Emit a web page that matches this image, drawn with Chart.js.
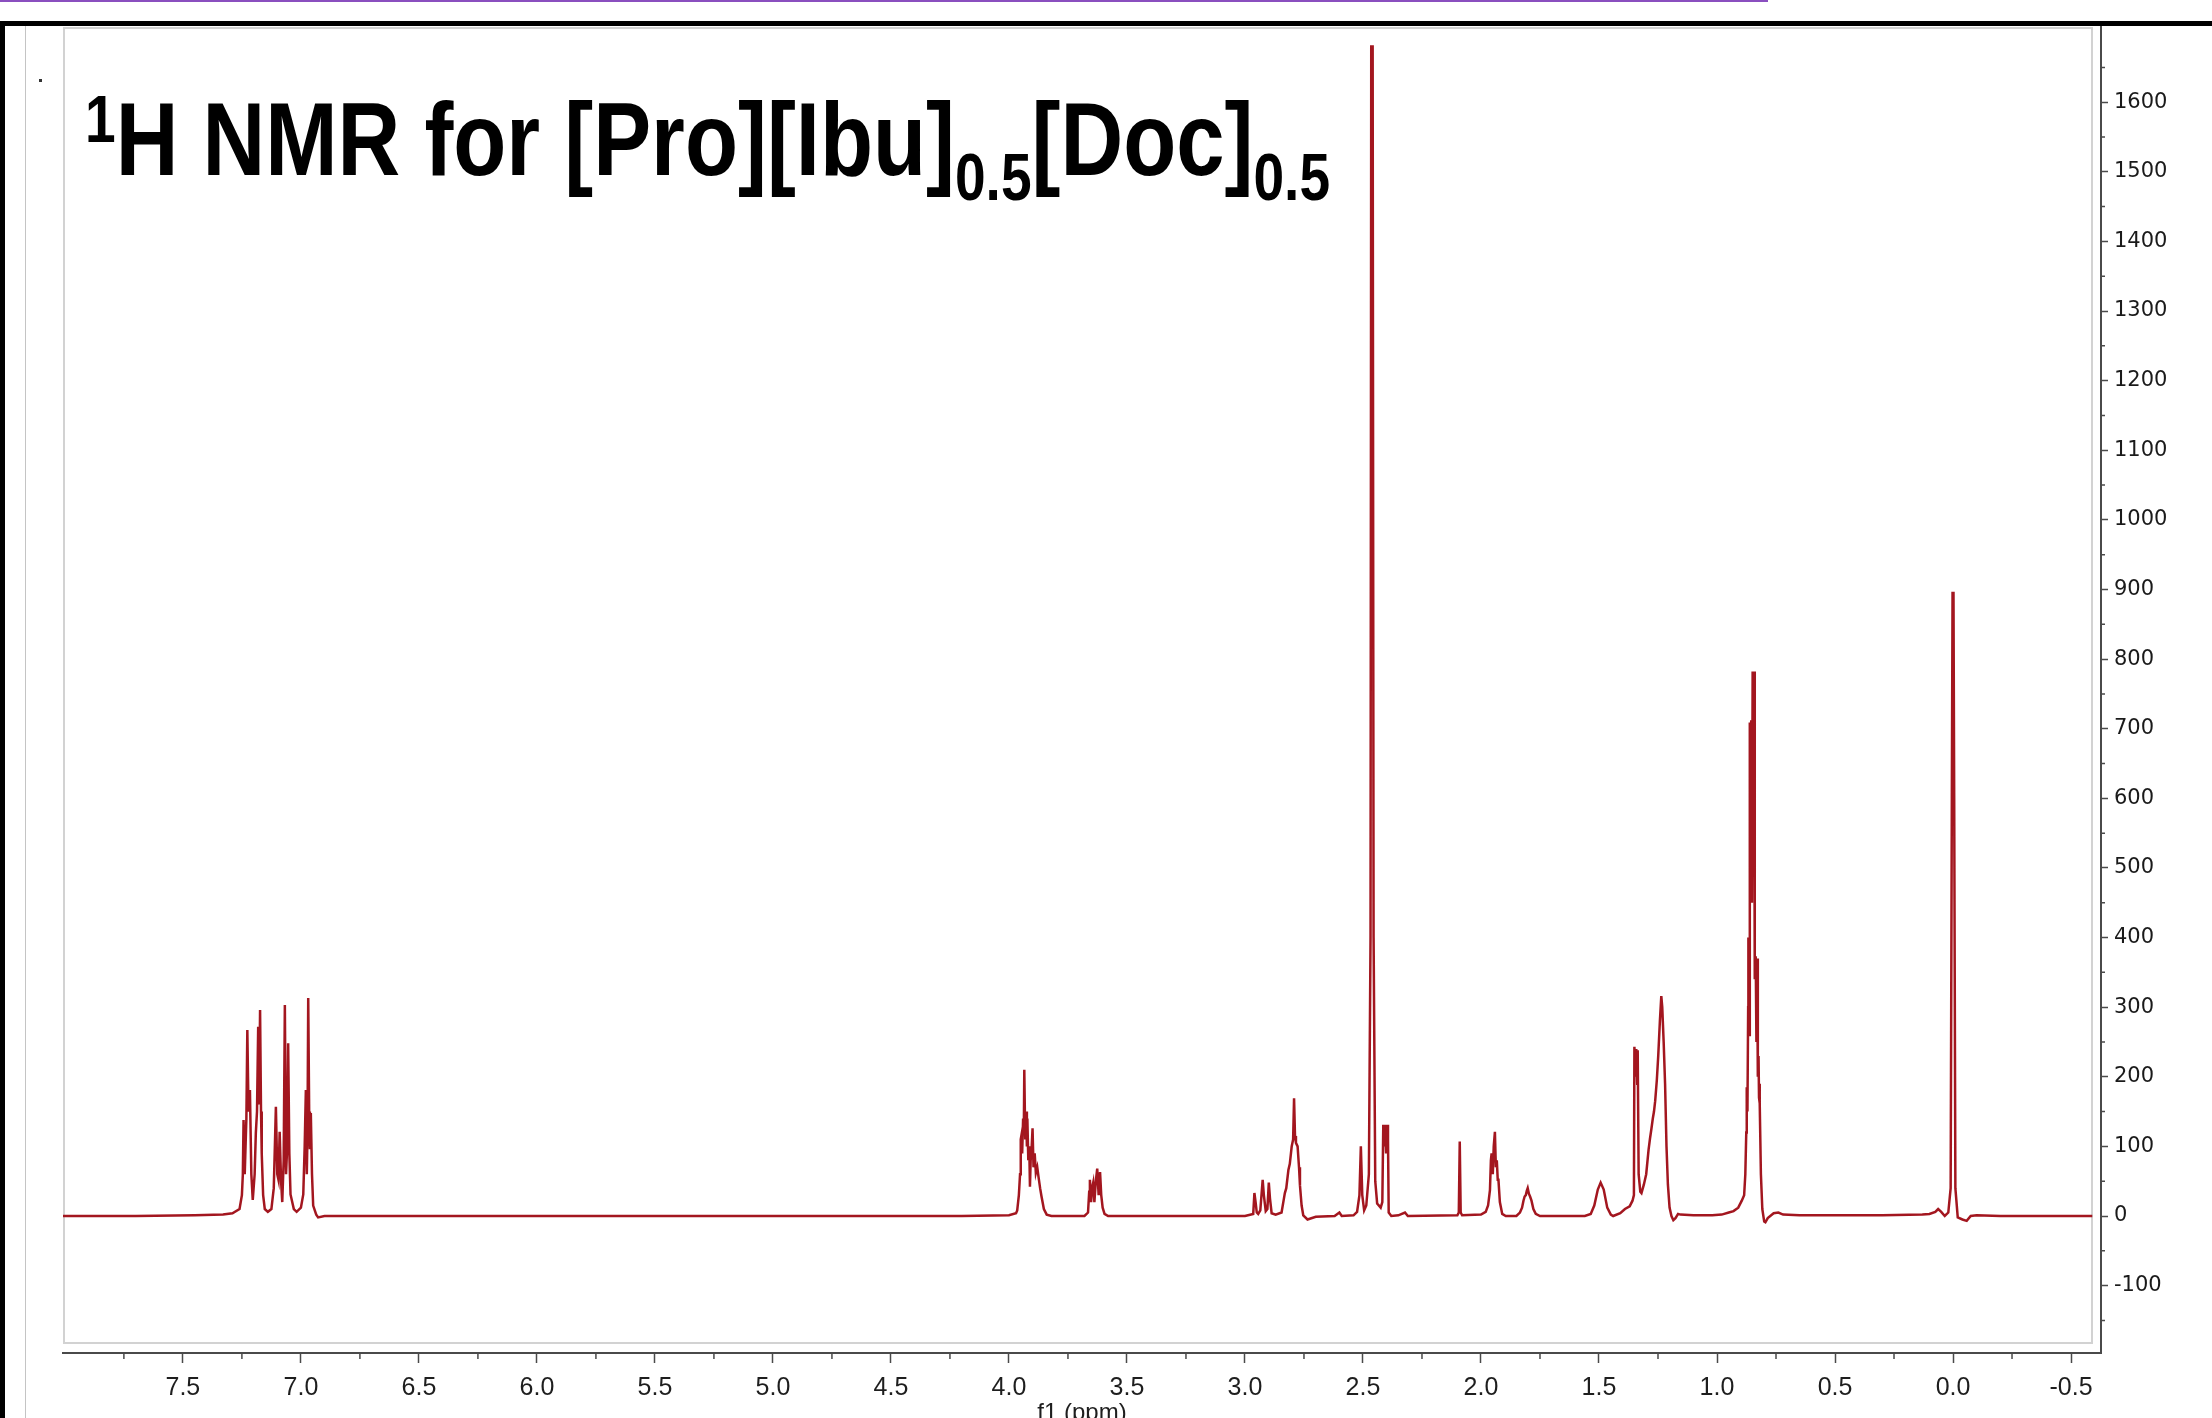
<html>
<head>
<title>1H NMR for [Pro][Ibu]0.5[Doc]0.5</title>
<script src="https://cdn.jsdelivr.net/npm/chart.js"></script>
<style>
    body { margin: 0; background: #fff; overflow: hidden; width: 2212px; height: 1418px; position: relative; }
    #chart { position: absolute; left: 0; top: 0; }
    .deco { position: absolute; z-index: 4; }
    #title {
        position: absolute; left: 85px; top: 87px; z-index: 5;
        font-family: 'Liberation Sans', Arial, sans-serif; font-weight: bold;
        font-size: 104px; line-height: 104px; color: #000; white-space: nowrap;
        transform: scaleX(0.835); transform-origin: 0 0;
    }
    #title .sub { font-size: 66px; position: relative; top: 25px; }
    #title .sup { font-size: 66px; position: relative; top: -33px; }
</style>
</head>
<body>
<!-- page frame bits around the plot -->
<div class="deco" style="left:0;top:0;width:1768px;height:2px;background:#8a4fbf"></div>
<div class="deco" style="left:0;top:21px;width:2212px;height:5px;background:#000"></div>
<div class="deco" style="left:0;top:21px;width:5px;height:1400px;background:#000"></div>
<div class="deco" style="left:25px;top:26px;width:1px;height:1400px;background:#c4c4c4"></div>
<div class="deco" style="left:39px;top:79px;width:3px;height:3px;background:#333"></div>

<div id="title"><span class="sup">1</span>H NMR for [Pro][Ibu]<span class="sub">0.5</span>[Doc]<span class="sub">0.5</span></div>

<canvas id="chart" width="2212" height="1432"></canvas>

<script>
    // chemical shift (ppm), intensity
    const baseLeft = [[8.01, 0], [7.70, 0], [7.45, 1], [7.33, 2], [7.29, 4], [7.26, 10]];
    const aromatic = [
        [7.250, 30], [7.246, 60], [7.243, 138], [7.238, 60], [7.231, 140], [7.227, 267], [7.222, 150],
        [7.216, 181], [7.210, 60], [7.204, 23], [7.196, 60], [7.191, 119], [7.186, 150], [7.181, 272],
        [7.177, 160], [7.173, 296], [7.169, 150], [7.166, 90], [7.160, 30], [7.153, 10], [7.140, 6],
        [7.125, 10], [7.115, 40], [7.106, 157], [7.100, 60], [7.095, 52], [7.090, 121], [7.084, 50],
        [7.079, 20], [7.073, 80], [7.068, 303], [7.063, 60], [7.058, 100], [7.054, 248], [7.049, 90],
        [7.044, 31], [7.030, 10], [7.018, 6], [7.000, 12], [6.990, 31], [6.984, 100], [6.979, 181],
        [6.975, 60], [6.972, 120], [6.969, 313], [6.965, 150], [6.962, 96], [6.958, 148], [6.953, 60],
        [6.948, 15], [6.935, 2], [6.927, -2], [6.900, 0]
    ];
    const proline = [
        [4.20, 0], [4.00, 1], [3.970, 4], [3.965, 8], [3.958, 30], [3.953, 60], [3.950, 110], [3.948, 114],
        [3.944, 90], [3.940, 140], [3.937, 120], [3.935, 210], [3.931, 110], [3.927, 150], [3.924, 100],
        [3.922, 140], [3.918, 80], [3.914, 100], [3.911, 42], [3.908, 80], [3.905, 90], [3.900, 126],
        [3.896, 70], [3.891, 90], [3.886, 62], [3.880, 70], [3.875, 57], [3.868, 40], [3.862, 28],
        [3.852, 10], [3.840, 2], [3.820, 0],
        [3.680, 0], [3.665, 5], [3.660, 35], [3.657, 52], [3.652, 20], [3.648, 40], [3.643, 48],
        [3.638, 20], [3.632, 50], [3.626, 68], [3.620, 30], [3.614, 63], [3.609, 30], [3.603, 12],
        [3.595, 3], [3.580, 0]
    ];
    const midField = [
        [3.000, 0], [2.965, 3], [2.960, 33], [2.955, 20], [2.950, 5], [2.944, 3], [2.935, 8], [2.925, 52],
        [2.920, 30], [2.912, 7], [2.905, 10], [2.899, 48], [2.894, 25], [2.887, 4], [2.870, 2], [2.845, 5],
        [2.835, 25], [2.831, 33], [2.825, 40], [2.816, 66], [2.810, 75], [2.802, 100], [2.796, 110],
        [2.792, 169], [2.788, 115], [2.784, 105], [2.777, 100], [2.771, 70], [2.767, 44], [2.760, 15],
        [2.753, 1], [2.735, -5], [2.700, -1], [2.620, 0], [2.600, 5], [2.590, 0], [2.540, 1],
        [2.525, 6], [2.515, 30], [2.509, 100], [2.503, 30], [2.495, 8], [2.486, 15], [2.475, 60],
        [2.468, 400], [2.465, 1680], [2.459, 1680], [2.455, 400], [2.448, 50], [2.440, 18],
        [2.425, 12], [2.418, 20], [2.414, 131], [2.410, 100], [2.406, 131], [2.402, 90], [2.398, 131],
        [2.394, 110], [2.391, 5], [2.380, 0], [2.350, 1], [2.322, 5], [2.310, 0],
        [2.100, 1], [2.094, 5], [2.090, 107], [2.086, 5], [2.080, 1],
        [2.000, 2], [1.980, 6], [1.970, 15], [1.962, 37], [1.958, 80], [1.955, 90], [1.950, 60],
        [1.946, 100], [1.941, 121], [1.937, 70], [1.933, 80], [1.929, 52], [1.926, 52], [1.920, 20],
        [1.910, 3], [1.895, 0],
        [1.850, 0], [1.835, 5], [1.826, 12], [1.820, 22], [1.815, 28], [1.810, 30], [1.806, 36],
        [1.802, 40], [1.797, 32], [1.792, 28], [1.786, 22], [1.778, 10], [1.768, 3], [1.750, 0]
    ];
    const aliphatic = [
        [1.560, 0], [1.535, 3], [1.520, 15], [1.505, 38], [1.493, 48], [1.480, 38], [1.465, 12],
        [1.450, 2], [1.440, 0], [1.410, 4], [1.390, 10], [1.370, 14], [1.358, 22], [1.352, 30],
        [1.350, 243], [1.346, 200], [1.342, 240], [1.338, 190], [1.336, 238], [1.332, 60], [1.325, 35],
        [1.320, 33], [1.310, 45], [1.300, 60], [1.290, 95], [1.284, 111], [1.278, 125], [1.272, 140],
        [1.267, 150], [1.262, 165], [1.255, 195], [1.249, 230], [1.242, 280], [1.236, 316], [1.232, 300],
        [1.226, 250], [1.220, 190], [1.214, 100], [1.208, 45], [1.201, 12], [1.193, 0], [1.185, -6],
        [1.176, -3], [1.165, 3], [1.155, 2], [1.100, 1], [1.020, 1], [0.980, 2], [0.950, 5], [0.930, 7],
        [0.910, 12], [0.895, 22], [0.885, 30], [0.880, 60], [0.876, 120], [0.874, 185], [0.871, 150],
        [0.868, 300], [0.867, 400], [0.864, 260], [0.861, 709], [0.858, 500], [0.855, 712], [0.852, 450],
        [0.849, 782], [0.846, 600], [0.843, 782], [0.840, 340], [0.838, 360], [0.836, 373], [0.833, 250],
        [0.830, 370], [0.827, 200], [0.824, 230], [0.822, 170], [0.820, 190], [0.818, 162], [0.814, 60],
        [0.808, 10], [0.800, -8], [0.795, -9], [0.785, -3], [0.760, 4], [0.740, 5], [0.720, 2], [0.650, 1]
    ];
    const tmsRegion = [
        [0.300, 1], [0.130, 2], [0.100, 3], [0.075, 6], [0.063, 10], [0.050, 6], [0.035, 0], [0.020, 5],
        [0.010, 40], [0.005, 600], [0.002, 895], [-0.002, 895], [-0.005, 600], [-0.010, 40], [-0.020, -2],
        [-0.040, -5], [-0.058, -7], [-0.075, 0], [-0.100, 1], [-0.200, 0], [-0.590, 0]
    ];

    const xTickValues = [7.5, 7.0, 6.5, 6.0, 5.5, 5.0, 4.5, 4.0, 3.5, 3.0, 2.5, 2.0, 1.5, 1.0, 0.5, 0.0, -0.5];
    const xMinorTicks = [7.75, 7.25, 6.75, 6.25, 5.75, 5.25, 4.75, 4.25, 3.75, 3.25, 2.75, 2.25, 1.75, 1.25, 0.75, 0.25, -0.25];
    const yTickValues = [-100, 0, 100, 200, 300, 400, 500, 600, 700, 800, 900, 1000, 1100, 1200, 1300, 1400, 1500, 1600];
    const yMinorTicks = [-150, -50, 50, 150, 250, 350, 450, 550, 650, 750, 850, 950, 1050, 1150, 1250, 1350, 1450, 1550, 1650];

    const spectrum = [].concat(baseLeft, aromatic, proline, midField, aliphatic, tmsRegion)
        .map(p => ({x: p[0], y: p[1]}));

    const axisColor = '#4a4a4a';

    // light frame inside the axes + minor ticks
    const framePlugin = {
        id: 'frame',
        beforeDatasetsDraw(chart) {
            const a = chart.chartArea;
            const c = chart.ctx;
            c.save();
            c.strokeStyle = '#d2d2d2';
            c.lineWidth = 2;
            c.strokeRect(a.left + 1, a.top + 1, a.right - a.left - 10, a.bottom - a.top - 11);
            c.restore();
        },
        afterDraw(chart) {
            const a = chart.chartArea;
            const c = chart.ctx;
            const xs = chart.scales.x, ys = chart.scales.y;
            c.save();
            c.strokeStyle = axisColor;
            c.lineWidth = 1.5;
            c.beginPath();
            xMinorTicks.forEach(v => {
                const px = xs.getPixelForValue(v);
                c.moveTo(px, a.bottom);
                c.lineTo(px, a.bottom + 6);
            });
            yMinorTicks.forEach(v => {
                const py = ys.getPixelForValue(v);
                c.moveTo(a.right, py);
                c.lineTo(a.right + 4, py);
            });
            c.stroke();
            c.restore();
        }
    };

    const ctx = document.getElementById('chart').getContext('2d');
    const chart = new Chart(ctx, {
        type: 'scatter',
        data: {
            datasets: [{
                data: spectrum,
                showLine: true,
                borderColor: '#a3161f',
                borderWidth: 2.5,
                pointRadius: 0,
                tension: 0
            }]
        },
        options: {
            responsive: false,
            animation: false,
            layout: {padding: {left: 63, top: 27, right: 0, bottom: 0}},
            plugins: {legend: {display: false}, tooltip: {enabled: false}},
            scales: {
                x: {
                    type: 'linear',
                    reverse: true,
                    min: -0.627,
                    max: 8.008,
                    afterBuildTicks: s => { s.ticks = xTickValues.map(v => ({value: v})); },
                    afterFit: s => { s.height = 79; },
                    border: {display: true, color: axisColor, width: 2},
                    grid: {drawOnChartArea: false, tickLength: 10, tickColor: axisColor, tickWidth: 1.5},
                    ticks: {
                        padding: 10,
                        color: '#1e1e1e',
                        font: {family: "'Liberation Sans Narrow', 'Liberation Sans', Arial", size: 25},
                        maxRotation: 0,
                        autoSkip: false,
                        callback: v => Number(v).toFixed(1)
                    },
                    title: {
                        display: true,
                        text: 'f1 (ppm)',
                        color: '#1e1e1e',
                        font: {family: "'Liberation Sans Narrow', 'Liberation Sans', Arial", size: 24},
                        padding: {top: 0, bottom: 4}
                    }
                },
                y: {
                    type: 'linear',
                    position: 'right',
                    min: -196.8,
                    max: 1708,
                    afterBuildTicks: s => { s.ticks = yTickValues.map(v => ({value: v})); },
                    afterFit: s => { s.width = 111; },
                    border: {display: true, color: axisColor, width: 2},
                    grid: {drawOnChartArea: false, tickLength: 7, tickColor: axisColor, tickWidth: 1.5},
                    ticks: {
                        padding: 6,
                        color: '#1a1a1a',
                        font: {family: "'DejaVu Sans', Verdana", size: 21},
                        autoSkip: false,
                        callback: v => String(v)
                    }
                }
            }
        },
        plugins: [framePlugin]
    });
</script>
</body>
</html>
